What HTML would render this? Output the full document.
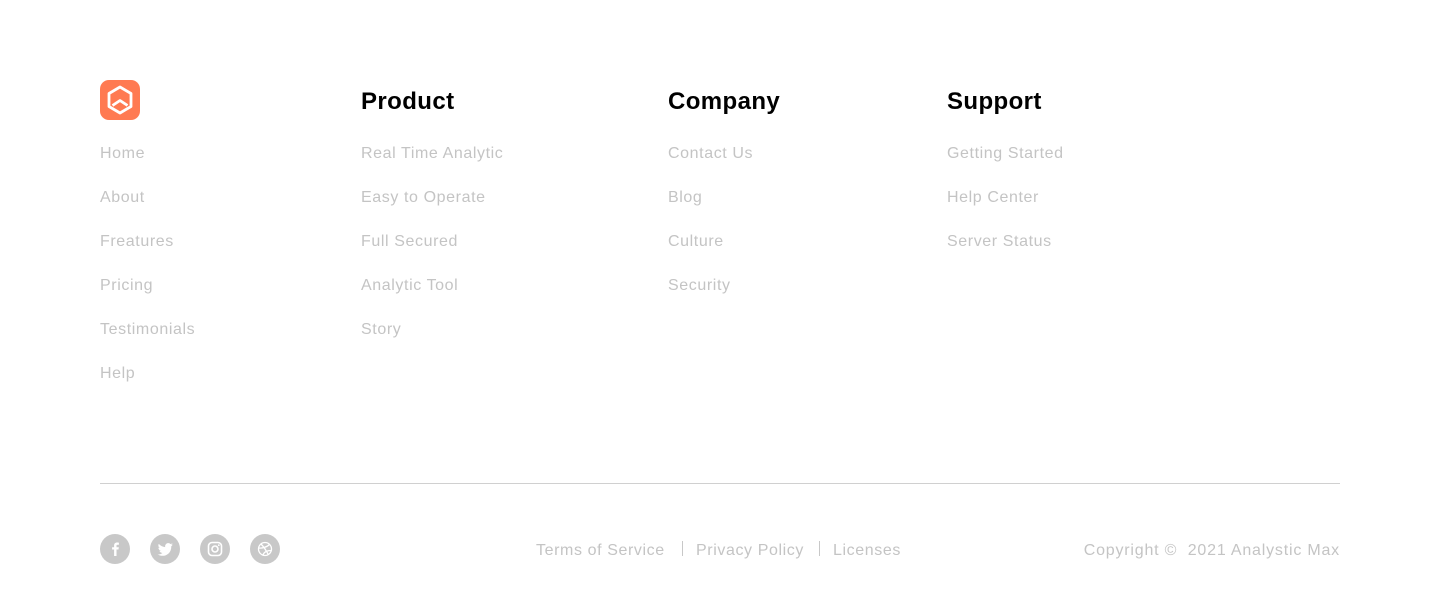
<!DOCTYPE html>
<html><head><meta charset="utf-8"><style>
body{margin:0;width:1440px;height:614px;background:#fff;position:relative;font-family:"Liberation Sans",sans-serif;overflow:hidden}
.t{position:absolute;font-size:16px;color:#c4c4c4;line-height:20px;letter-spacing:0.6px;white-space:nowrap}
.h{position:absolute;font-size:24px;font-weight:bold;color:#000;line-height:30px;white-space:nowrap;letter-spacing:0.4px}
.ic{position:absolute;top:534px;width:30px;height:30px;border-radius:50%;background:#c8c8c8}
</style></head><body>
<svg style="position:absolute;left:100px;top:80px" width="40" height="40" viewBox="0 0 40 40">
<rect width="40" height="40" rx="9" fill="#ff7a52"/>
<path d="M20 7 L31 13.5 L31 26.5 L20 33 L9 26.5 L9 13.5 Z" fill="none" stroke="#fff" stroke-width="2.8" stroke-linejoin="round"/>
<path d="M12.5 25.5 L20 20.5 L27.5 25.5" fill="none" stroke="#fff" stroke-width="2.8" stroke-linejoin="round"/>
</svg>
<div class="t" style="left:100px;top:144px">Home</div>
<div class="t" style="left:100px;top:188px">About</div>
<div class="t" style="left:100px;top:232px">Freatures</div>
<div class="t" style="left:100px;top:276px">Pricing</div>
<div class="t" style="left:100px;top:320px">Testimonials</div>
<div class="t" style="left:100px;top:364px">Help</div>

<div class="h" style="left:361px;top:87px">Product</div>
<div class="t" style="left:361px;top:144px">Real Time Analytic</div>
<div class="t" style="left:361px;top:188px">Easy to Operate</div>
<div class="t" style="left:361px;top:232px">Full Secured</div>
<div class="t" style="left:361px;top:276px">Analytic Tool</div>
<div class="t" style="left:361px;top:320px">Story</div>

<div class="h" style="left:668px;top:87px">Company</div>
<div class="t" style="left:668px;top:144px">Contact Us</div>
<div class="t" style="left:668px;top:188px">Blog</div>
<div class="t" style="left:668px;top:232px">Culture</div>
<div class="t" style="left:668px;top:276px">Security</div>

<div class="h" style="left:947px;top:87px">Support</div>
<div class="t" style="left:947px;top:144px">Getting Started</div>
<div class="t" style="left:947px;top:188px">Help Center</div>
<div class="t" style="left:947px;top:232px">Server Status</div>

<div style="position:absolute;left:100px;top:483px;width:1240px;height:1px;background:#d0d0d0"></div>

<div class="ic" style="left:100px"><svg width="30" height="30"><path d="M16.5 22 V15.5 H18.5 L18.8 13.2 H16.5 V11.8 C16.5 11.1 16.8 10.7 17.6 10.7 H18.9 V8.7 C18.5 8.6 17.8 8.5 17 8.5 C15.2 8.5 14.1 9.6 14.1 11.5 V13.2 H12.1 V15.5 H14.1 V22 Z" fill="#fff"/></svg></div>
<div class="ic" style="left:150px"><svg width="30" height="30"><path d="M23 10.5 C22.4 10.8 21.8 10.9 21.2 11 C21.8 10.6 22.3 10 22.5 9.3 C21.9 9.7 21.2 9.9 20.5 10.1 C19.3 8.8 17.2 8.8 16 10.1 C15.2 10.9 14.9 12 15.2 13.1 C12.7 13 10.4 11.8 8.8 9.9 C8 11.3 8.4 13.1 9.8 14 C9.3 14 8.8 13.8 8.4 13.6 C8.4 15.1 9.4 16.4 10.9 16.7 C10.4 16.8 9.900 16.9 9.4 16.8 C9.8 18.1 11 19 12.4 19 C11 20.1 9.3 20.6 7.6 20.4 C13.5 24 21.5 20.5 21.3 12.2 C21.9 11.7 22.5 11.2 23 10.5Z" fill="#fff"/></svg></div>
<div class="ic" style="left:200px"><svg width="30" height="30"><rect x="8.5" y="8.5" width="13" height="13" rx="3.5" fill="none" stroke="#fff" stroke-width="1.6"/><circle cx="15" cy="15" r="3" fill="none" stroke="#fff" stroke-width="1.6"/><circle cx="18.8" cy="11.2" r="0.9" fill="#fff"/></svg></div>
<div class="ic" style="left:250px"><svg width="30" height="30" fill="none" stroke="#fff" stroke-width="1.3"><circle cx="15" cy="15" r="6.5"/><path d="M11 10 C14 13 17 18 18.5 21"/><path d="M8.7 14 C12 14.5 17 13 19.5 10.5"/><path d="M13 21 C14 18 17 16.5 21.4 16.5"/></svg></div>

<div class="t" style="left:536px;top:541px">Terms of Service</div>
<div style="position:absolute;left:682px;top:541px;width:1px;height:15px;background:#c8c8c8"></div>
<div class="t" style="left:696px;top:541px">Privacy Policy</div>
<div style="position:absolute;left:819px;top:541px;width:1px;height:15px;background:#c8c8c8"></div>
<div class="t" style="left:833px;top:541px">Licenses</div>
<div class="t" style="right:100px;top:541px;letter-spacing:0.8px">Copyright ©&nbsp; 2021 Analystic Max</div>
</body></html>
